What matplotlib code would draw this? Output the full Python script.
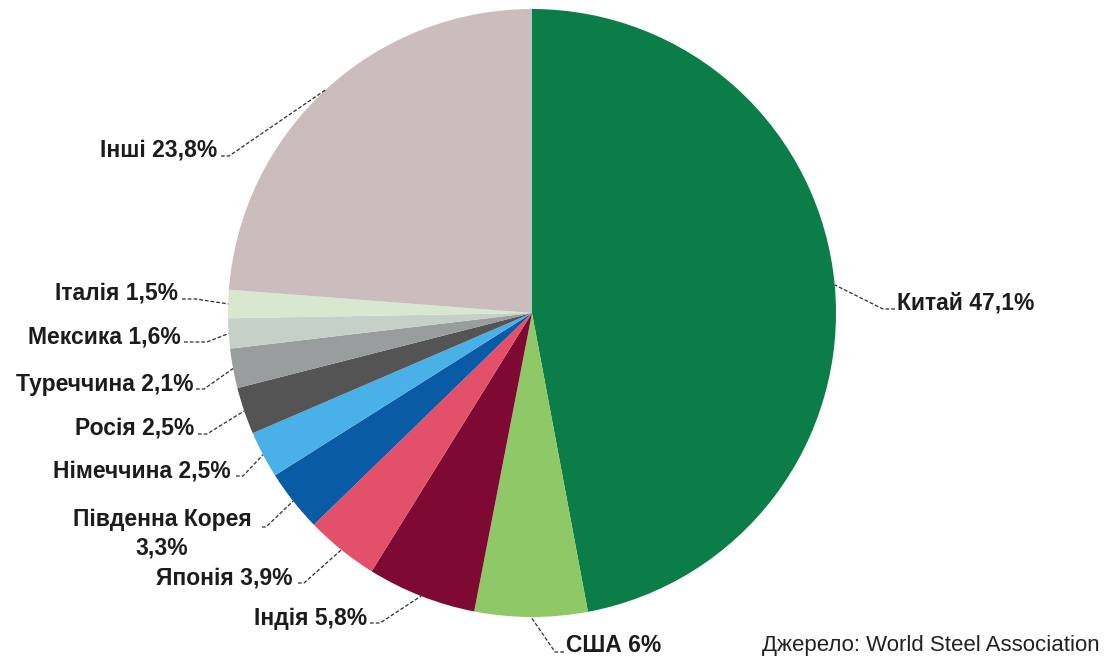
import matplotlib
matplotlib.use("Agg")
import matplotlib.pyplot as plt
import numpy as np

plt.rcParams["font.family"] = ["Liberation Sans", "DejaVu Sans"]

# World crude steel production shares by country
countries = ["Китай", "США", "Індія", "Японія", "Південна Корея", "Німеччина",
             "Росія", "Туреччина", "Мексика", "Італія", "Інші"]
shares = [47.1, 6.0, 5.8, 3.9, 3.3, 2.5, 2.5, 2.1, 1.6, 1.5, 23.8]
share_labels = ["47,1%", "6%", "5,8%", "3,9%", "3,3%", "2,5%", "2,5%", "2,1%",
                "1,6%", "1,5%", "23,8%"]
slice_colors = ["#0b7d46", "#8fc866", "#7e0933", "#e2506a", "#0a5ba5", "#4ab0e8",
                "#545454", "#9a9d9d", "#c5d0c8", "#d7e8cf", "#cbbcbd"]
source_note = "Джерело: World Steel Association"

W, H = 1111, 662
fig = plt.figure(figsize=(W / 100, H / 100), dpi=100)
ax = fig.add_axes([0, 0, 1, 1])

cx, cy, R = 532, H - 313, 304
wedges, _ = ax.pie(shares, colors=slice_colors, startangle=90, counterclock=False,
                   center=(cx, cy), radius=R, wedgeprops=dict(linewidth=0))
ax.set_xlim(0, W)
ax.set_ylim(0, H)
ax.set_aspect("equal")
ax.axis("off")

# label placement in pixel coords (y from top):
# (text x, text centre y, alignment, leader points from text side towards the pie)
layout = [
    (897, 303, "left",   [(895, 309), (883, 309)]),
    (566, 646, "left",   [(564, 652), (555, 652)]),
    (367, 618, "right",  [(370, 623), (380, 623)]),
    (293, 578, "right",  [(298, 583), (304, 583)]),
    (162, 534, "center", [(262, 527), (266, 527)]),
    (231, 471, "right",  [(236, 476), (243, 476)]),
    (194, 428, "right",  [(198, 434), (207, 434)]),
    (193, 385, "right",  [(196, 389), (204, 389)]),
    (181, 337, "right",  [(184, 342), (207, 342)]),
    (178, 293, "right",  [(182, 299), (196, 299)]),
    (217, 150, "right",  [(221, 156), (229, 156)]),
]

for w, name, lab, (tx, ty, ha, pts) in zip(wedges, countries, share_labels, layout):
    if name == "Південна Корея":
        txt = f"{name}\n{lab}"
    else:
        txt = f"{name} {lab}"
    ax.text(tx, H - ty, txt, ha=ha, va="center", fontsize=16.5, fontweight="bold",
            color="#1c1c1c", linespacing=1.3, multialignment="center")
    mid = np.deg2rad((w.theta1 + w.theta2) / 2)
    ex, ey = cx + R * np.cos(mid), cy + R * np.sin(mid)
    xs = [p[0] for p in pts] + [ex]
    ys = [H - p[1] for p in pts] + [ey]
    ax.plot(xs, ys, color="#2e2e2e", lw=0.9, ls=(0, (3, 1.6)))

ax.text(1100, H - 645, source_note, ha="right", va="center", fontsize=16,
        color="#222222")

fig.savefig("out.png", dpi=100)
